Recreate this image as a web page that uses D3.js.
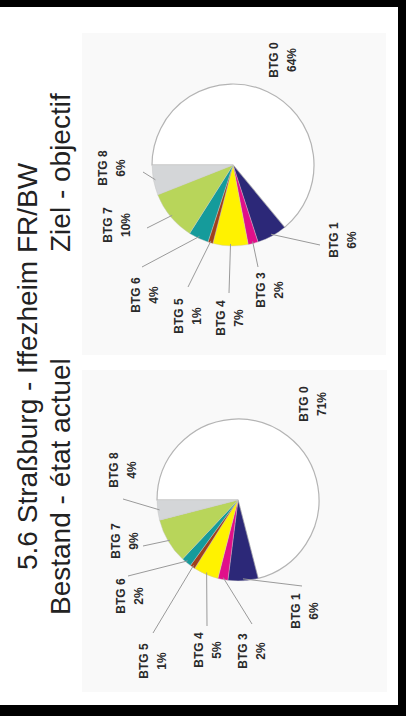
<!DOCTYPE html>
<html>
<head>
<meta charset="utf-8">
<script src="https://cdn.jsdelivr.net/npm/d3@7"></script>
<style>
html,body{margin:0;padding:0;background:#fff;}
svg{display:block;}
</style>
</head>
<body>
<script>
// ---- data ----
const categories = ["BTG 0","BTG 1","BTG 3","BTG 4","BTG 5","BTG 6","BTG 7","BTG 8"];
const bestandValues = [71, 6, 2, 5, 1, 2, 9, 4];
const zielValues    = [64, 6, 2, 7, 1, 4, 10, 6];
const sliceColors = ["#ffffff","#2c2878","#e0108a","#fff200","#a0401c","#159b9b","#b8d55a","#d4d6d8"];
const titleLine1 = "5.6 Straßburg - Iffezheim FR/BW";
const subtitleBestand = "Bestand - état actuel";
const subtitleZiel = "Ziel - objectif";

// ---- label layout (offsets from pie centre, rotated frame) ----
const zielLabelPos   = [[105,45],[-75,105],[-125,32],[-153,-8],[-151,-50],[-130,-93],[-60,-121],[-3,-126]];
const zielLeaderEnd  = [null,[-80,87],[-102,25],[-128,-4],[-122,-45],[-102,-91],[-63,-86],[-7,-90]];
const bestLabelPos   = [[96,70],[-111,62],[-151,9],[-150,-35],[-161,-90],[-96,-113],[-41,-118],[30,-120]];
const bestLeaderEnd  = [null,[-86,64],[-124,14],[-126,-31],[-133,-85],[-76,-110],[-46,-95],[1,-115]];

const W = 406, H = 716, R = 81;
const svg = d3.select("body").append("svg").attr("width", W).attr("height", H);
svg.append("rect").attr("width", W).attr("height", H).attr("fill", "#fff");

// frame bands
svg.append("rect").attr("x",0).attr("y",0).attr("width",W).attr("height",7).attr("fill","#000");
svg.append("rect").attr("x",398).attr("y",0).attr("width",8).attr("height",H).attr("fill","#000");
svg.append("rect").attr("x",0).attr("y",705).attr("width",W).attr("height",11).attr("fill","#000");

// rotated frame: u to the right (= up the page), v down (= right on page)
const g = svg.append("g").attr("transform", `translate(0,${H}) rotate(-90)`);

// panels
g.append("rect").attr("x",361).attr("y",82).attr("width",322).attr("height",304).attr("fill","#f9f9f9");
g.append("rect").attr("x",24).attr("y",82).attr("width",322).attr("height",305).attr("fill","#f9f9f9");

// titles
const tfont = "'Liberation Sans', Arial, sans-serif";
g.append("text").attr("x",146).attr("y",37).attr("font-family",tfont).attr("font-size",28).attr("fill","#222").text(titleLine1);
g.append("text").attr("x",101).attr("y",70).attr("font-family",tfont).attr("font-size",28).attr("fill","#222").text(subtitleBestand);
g.append("text").attr("x",464).attr("y",70).attr("font-family",tfont).attr("font-size",28).attr("fill","#222").text(subtitleZiel);

function drawPie(values, cx, cy, labelPos, leaderEnd) {
  const pg = g.append("g").attr("transform", `translate(${cx},${cy})`);
  const arcs = d3.pie().sort(null).value(d => d)(values);
  const arc = d3.arc().innerRadius(0).outerRadius(R);
  pg.selectAll("path.slice").data(arcs).join("path")
    .attr("class","slice")
    .attr("d", arc)
    .attr("fill", (d,i) => sliceColors[i])
    .attr("stroke", (d,i) => i === 0 ? "#b4b4b4" : "#c8c8c8")
    .attr("stroke-width", (d,i) => i === 0 ? 1.2 : 0.4);
  // leaders
  arcs.forEach((d,i) => {
    if (!leaderEnd[i]) return;
    const a = (d.startAngle + d.endAngle) / 2;
    const sx = (R - 2) * Math.sin(a), sy = -(R - 2) * Math.cos(a);
    pg.append("line").attr("x1",sx).attr("y1",sy)
      .attr("x2",leaderEnd[i][0]).attr("y2",leaderEnd[i][1])
      .attr("stroke","#9a9a9a").attr("stroke-width",1);
  });
  // labels
  arcs.forEach((d,i) => {
    const t = pg.append("text")
      .attr("x", labelPos[i][0]).attr("y", labelPos[i][1])
      .attr("text-anchor","middle")
      .attr("font-family", tfont).attr("font-weight","bold")
      .attr("font-size", 12).attr("fill","#2a2a2a");
    t.append("tspan").attr("x", labelPos[i][0]).text(categories[i]);
    t.append("tspan").attr("x", labelPos[i][0]).attr("dy", 18).text(values[i] + "%");
  });
}

drawPie(bestandValues, 216, 238, bestLabelPos, bestLeaderEnd);
drawPie(zielValues, 551, 233, zielLabelPos, zielLeaderEnd);
</script>
</body>
</html>
